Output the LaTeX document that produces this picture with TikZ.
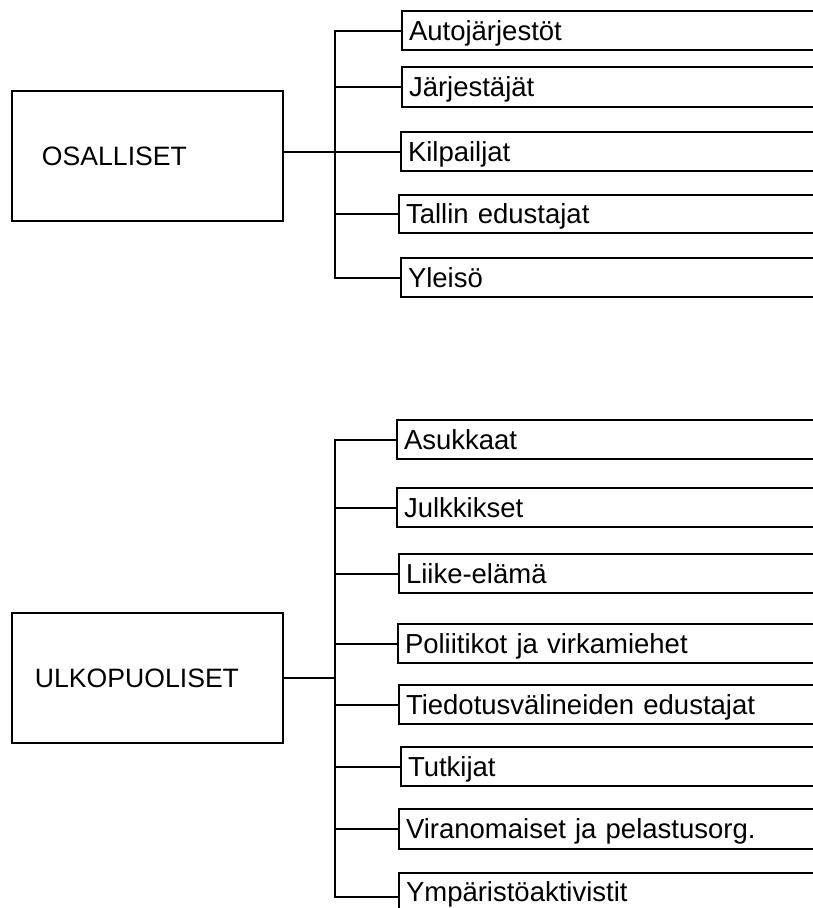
\documentclass[tikz,border=0pt]{standalone}
\usepackage{fontspec}
\setmainfont{Liberation Sans}
\begin{document}
\begin{tikzpicture}[x=1bp,y=-1bp,line width=2bp,
  item/.style={draw,rectangle,anchor=west,minimum height=39bp,text width=420bp,
    inner xsep=7bp,inner ysep=0pt,align=left,
    font=\fontsize{27.5bp}{32bp}\selectfont,text height=19.7bp,text depth=0pt},
  head/.style={draw,rectangle,minimum height=130bp,inner ysep=0pt,align=left,
    font=\fontsize{26.6bp}{31bp}\selectfont,text height=19bp,text depth=0pt}]
\useasboundingbox (0,0) rectangle (813,908);
\clip (0,0) rectangle (813,908);
% top group
\node[head,text width=211bp,inner xsep=30bp] (osa) at (147.5,156) {OSALLISET};
\node[item,minimum height=39bp] (a1) at (401,30.5) {Autojärjestöt};
\node[item,minimum height=40bp] (a2) at (401,87) {Järjestäjät};
\node[item,minimum height=39bp] (a3) at (400,151.5) {Kilpailjat};
\node[item,minimum height=38bp] (a4) at (398,214) {Tallin edustajat};
\node[item,minimum height=39bp] (a5) at (400,277.5) {Yleisö};
\coordinate (busA) at (335,0);
\draw (a1.west) -- (busA |- a1.west) -- (busA |- a5.west) -- (a5.west);
\foreach \n in {a2,a3,a4} \draw (busA |- \n.west) -- (\n.west);
\draw (osa.east |- a3.west) -- (busA |- a3.west);
% bottom group
\node[head,text width=225bp,inner xsep=23bp] (ulk) at (147.5,678) {ULKOPUOLISET};
\node[item,minimum height=39bp] (b1) at (396,439.5) {Asukkaat};
\node[item,minimum height=39bp] (b2) at (396,507.5) {Julkkikset};
\node[item,minimum height=39bp] (b3) at (398,573.5) {Liike-elämä};
\node[item,minimum height=39bp] (b4) at (397,643.5) {Poliitikot ja virkamiehet};
\node[item,minimum height=39bp] (b5) at (398,704.5) {Tiedotusvälineiden edustajat};
\node[item,minimum height=39bp] (b6) at (400,766.5) {Tutkijat};
\node[item,minimum height=40bp] (b7) at (398,829) {Viranomaiset ja pelastusorg.};
\node[item,minimum height=48bp,text depth=11.7bp] (b8) at (398,897) {Ympäristöaktivistit};
\coordinate (busB) at (335,0);
\draw (b1.west) -- (busB |- b1.west) -- (busB |- b8.west) -- (b8.west);
\foreach \n in {b2,b3,b4,b5,b6,b7} \draw (busB |- \n.west) -- (\n.west);
\draw (ulk.east) -- (busB |- ulk.east);
\end{tikzpicture}
\end{document}
